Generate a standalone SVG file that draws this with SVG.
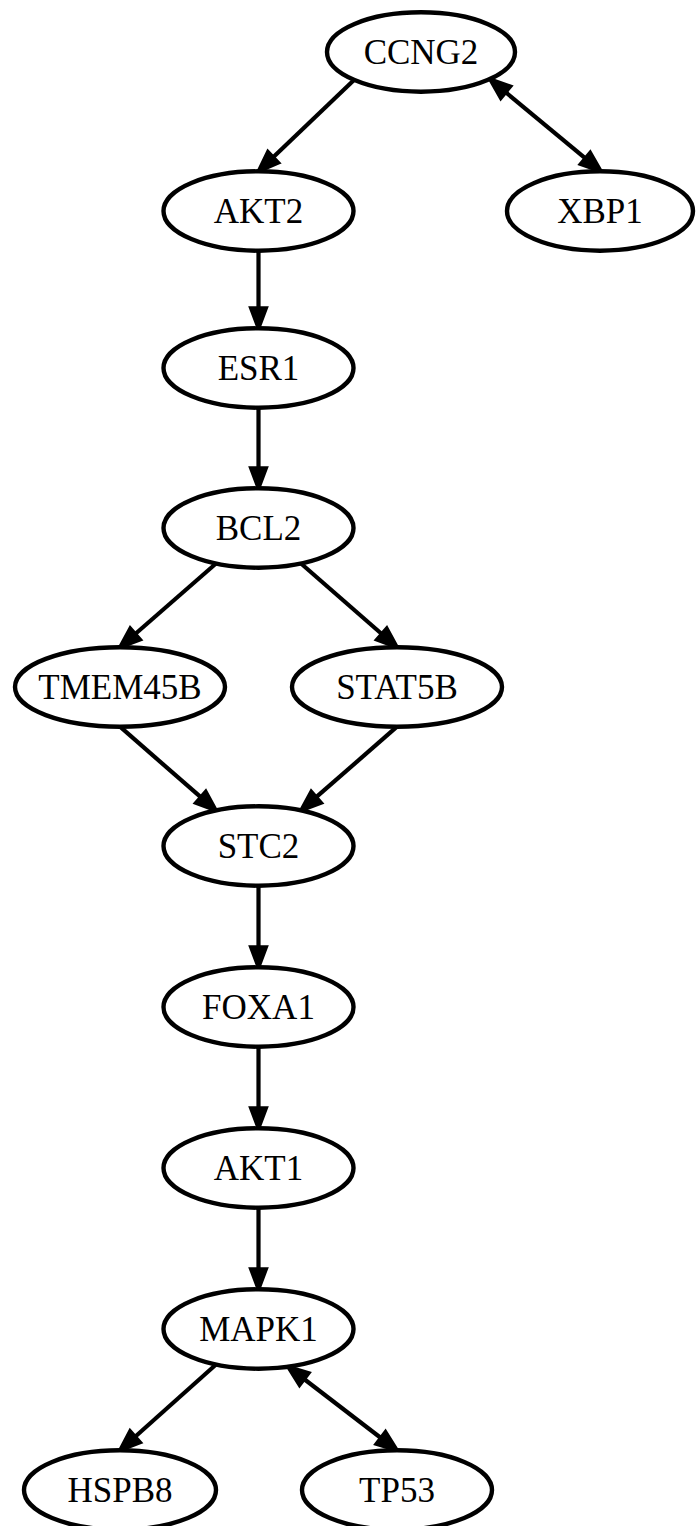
<svg xmlns="http://www.w3.org/2000/svg" width="696" height="1526" viewBox="0 0 696 1526">
<style>
.node ellipse{fill:#fff;stroke:#000;stroke-width:4.4}
.node text{font-family:"Liberation Serif","Times New Roman",serif;font-size:35px;fill:#000;text-anchor:middle}
.edge{fill:none;stroke:#000;stroke-width:4.2}
</style>
<defs>
<marker id="ah" markerUnits="userSpaceOnUse" markerWidth="30" markerHeight="24" refX="0" refY="0" viewBox="-2 -10 26 20" orient="auto">
<path d="M0,-7.5 L20,0 L0,7.5 Z" fill="#000" stroke="#000" stroke-width="2" stroke-linejoin="miter"/>
</marker>
<marker id="as" markerUnits="userSpaceOnUse" markerWidth="30" markerHeight="24" refX="0" refY="0" viewBox="-2 -10 26 20" orient="auto-start-reverse">
<path d="M0,-7.5 L20,0 L0,7.5 Z" fill="#000" stroke="#000" stroke-width="2" stroke-linejoin="miter"/>
</marker>
</defs>
<rect width="696" height="1526" fill="#fff"/>
<g id="edges">
<line class="edge" x1="354" y1="80.1" x2="273.7" y2="156.8" marker-end="url(#ah)"/>
<line class="edge" x1="506.2" y1="92.7" x2="584.8" y2="157.9" marker-start="url(#as)" marker-end="url(#ah)"/>
<line class="edge" x1="258.5" y1="250.7" x2="258.5" y2="307.3" marker-end="url(#ah)"/>
<line class="edge" x1="258.5" y1="407.7" x2="258.5" y2="467.3" marker-end="url(#ah)"/>
<line class="edge" x1="216" y1="563.5" x2="135.8" y2="633.5" marker-end="url(#ah)"/>
<line class="edge" x1="301" y1="563.5" x2="381.2" y2="633.5" marker-end="url(#ah)"/>
<line class="edge" x1="120" y1="726.7" x2="200.2" y2="796.7" marker-end="url(#ah)"/>
<line class="edge" x1="397" y1="726.7" x2="316.8" y2="796.7" marker-end="url(#ah)"/>
<line class="edge" x1="258.5" y1="885.7" x2="258.5" y2="946.3" marker-end="url(#ah)"/>
<line class="edge" x1="258.5" y1="1046.7" x2="258.5" y2="1107.3" marker-end="url(#ah)"/>
<line class="edge" x1="258.5" y1="1207.7" x2="258.5" y2="1268.3" marker-end="url(#ah)"/>
<line class="edge" x1="216" y1="1364.5" x2="135.7" y2="1436.3" marker-end="url(#ah)"/>
<line class="edge" x1="304.7" y1="1379.5" x2="380.3" y2="1437.5" marker-start="url(#as)" marker-end="url(#ah)"/>
</g>
<g id="CCNG2" class="node"><ellipse cx="421" cy="52" rx="94" ry="39.7"/><text x="421" y="63.6">CCNG2</text></g>
<g id="AKT2" class="node"><ellipse cx="258.5" cy="211" rx="95" ry="39.7"/><text x="258.5" y="222.6">AKT2</text></g>
<g id="XBP1" class="node"><ellipse cx="600" cy="211" rx="93" ry="39.7"/><text x="600" y="222.6">XBP1</text></g>
<g id="ESR1" class="node"><ellipse cx="258.5" cy="368" rx="95" ry="39.7"/><text x="258.5" y="379.6">ESR1</text></g>
<g id="BCL2" class="node"><ellipse cx="258.5" cy="528" rx="95" ry="39.7"/><text x="258.5" y="539.6">BCL2</text></g>
<g id="TMEM45B" class="node"><ellipse cx="120" cy="687" rx="105" ry="39.7"/><text x="120" y="698.6">TMEM45B</text></g>
<g id="STAT5B" class="node"><ellipse cx="397" cy="687" rx="105" ry="39.7"/><text x="397" y="698.6">STAT5B</text></g>
<g id="STC2" class="node"><ellipse cx="258.5" cy="846" rx="95" ry="39.7"/><text x="258.5" y="857.6">STC2</text></g>
<g id="FOXA1" class="node"><ellipse cx="258.5" cy="1007" rx="95" ry="39.7"/><text x="258.5" y="1018.6">FOXA1</text></g>
<g id="AKT1" class="node"><ellipse cx="258.5" cy="1168" rx="95" ry="39.7"/><text x="258.5" y="1179.6">AKT1</text></g>
<g id="MAPK1" class="node"><ellipse cx="258.5" cy="1329" rx="95" ry="39.7"/><text x="258.5" y="1340.6">MAPK1</text></g>
<g id="HSPB8" class="node"><ellipse cx="120" cy="1490" rx="96" ry="39.7"/><text x="120" y="1501.6">HSPB8</text></g>
<g id="TP53" class="node"><ellipse cx="397" cy="1490" rx="95" ry="39.7"/><text x="397" y="1501.6">TP53</text></g>
</svg>
